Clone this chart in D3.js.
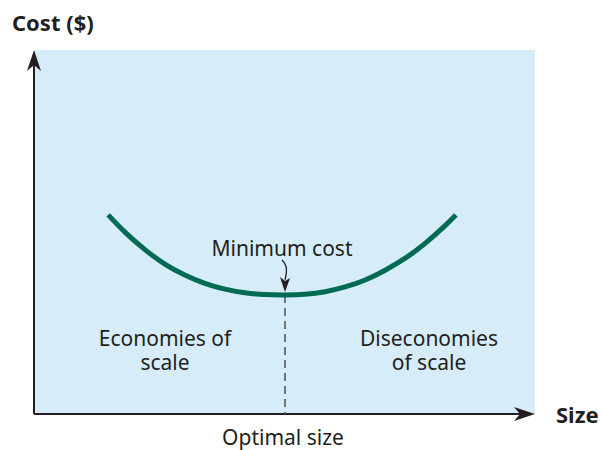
<!DOCTYPE html>
<html lang="en">
<head>
    <meta charset="UTF-8">
    <title>Economies of Scale</title>
    <script src="https://cdn.jsdelivr.net/npm/d3@7"></script>
    <style>
        body { margin: 0; background: #fff; }
        svg text { font-family: "Noto Sans", "Open Sans", sans-serif; fill: #231f20; }
        .lbl { font-size: 21px; }
        .axis-title { font-size: 22px; font-weight: bold; }
    </style>
</head>
<body>
<svg id="chart" width="601" height="450"></svg>
<script>
// Cost curve (size and cost on a 0-10 scale)
const sizes = [1.48, 1.82, 2.22, 2.61, 3.01, 3.41, 3.81, 4.21, 4.61, 5.01,
               5.41, 5.81, 6.21, 6.61, 7.01, 7.41, 7.80, 8.20, 8.42];
const costs = [5.47, 4.99, 4.51, 4.12, 3.82, 3.59, 3.43, 3.33, 3.28, 3.27,
               3.29, 3.36, 3.49, 3.68, 3.95, 4.28, 4.68, 5.17, 5.47];
const optimalSize = 5.01;
const minCost = 3.27;

const svg = d3.select("#chart");

const x = d3.scaleLinear().domain([0, 10]).range([34, 535]);
const y = d3.scaleLinear().domain([0, 10]).range([414, 50]);

// plot area
svg.append("rect")
    .attr("x", x(0)).attr("y", y(10))
    .attr("width", x(10) - x(0)).attr("height", y(0) - y(10))
    .attr("fill", "#d6edf9");

// axes
svg.append("line")
    .attr("x1", x(0)).attr("y1", y(0)).attr("x2", x(10) - 10).attr("y2", y(0))
    .attr("stroke", "#231f20").attr("stroke-width", 2);
svg.append("line")
    .attr("x1", x(0)).attr("y1", y(0)).attr("x2", x(0)).attr("y2", y(10) + 10)
    .attr("stroke", "#231f20").attr("stroke-width", 2);

// arrow heads
const tipX = [x(10), y(0)];
svg.append("path")
    .attr("d", `M${tipX[0]},${tipX[1]} L${tipX[0] - 21},${tipX[1] - 7} L${tipX[0] - 15},${tipX[1]} L${tipX[0] - 21},${tipX[1] + 7} Z`)
    .attr("fill", "#231f20");
const tipY = [x(0), y(10)];
svg.append("path")
    .attr("d", `M${tipY[0]},${tipY[1]} L${tipY[0] - 7},${tipY[1] + 21} L${tipY[0]},${tipY[1] + 15} L${tipY[0] + 7},${tipY[1] + 21} Z`)
    .attr("fill", "#231f20");

// dashed line at optimal size
svg.append("line")
    .attr("x1", x(optimalSize)).attr("y1", y(minCost))
    .attr("x2", x(optimalSize)).attr("y2", y(0))
    .attr("stroke", "#4d4d4f").attr("stroke-width", 1.5)
    .attr("stroke-dasharray", "8,5");

// cost curve
const line = d3.line()
    .x((d, i) => x(sizes[i]))
    .y(d => y(d))
    .curve(d3.curveNatural);

svg.append("path")
    .datum(costs)
    .attr("d", line)
    .attr("fill", "none")
    .attr("stroke", "#006a53")
    .attr("stroke-width", 5);

// arrow to minimum
const mx = x(optimalSize), my = y(minCost);
svg.append("path")
    .attr("d", `M${mx - 3},${my - 35} C${mx + 4},${my - 28} ${mx + 1},${my - 20} ${mx},${my - 15}`)
    .attr("fill", "none").attr("stroke", "#231f20").attr("stroke-width", 1.3);
svg.append("path")
    .attr("d", `M${mx},${my - 3} L${mx - 5},${my - 18} L${mx},${my - 14} L${mx + 5},${my - 17} Z`)
    .attr("fill", "#231f20");

// labels
function label(px, py, lines) {
    const t = svg.append("text").attr("class", "lbl").attr("text-anchor", "middle");
    lines.forEach((s, i) => {
        t.append("tspan").attr("x", px).attr("y", py + i * 24).text(s);
    });
}
label(282, 256, ["Minimum cost"]);
label(165, 346, ["Economies of", "scale"]);
label(429, 346, ["Diseconomies", "of scale"]);
label(283, 445, ["Optimal size"]);

svg.append("text").attr("class", "axis-title").attr("x", 12).attr("y", 31)
    .text("Cost ($)");
svg.append("text").attr("class", "axis-title").attr("x", 556).attr("y", 423)
    .text("Size");
</script>
</body>
</html>
